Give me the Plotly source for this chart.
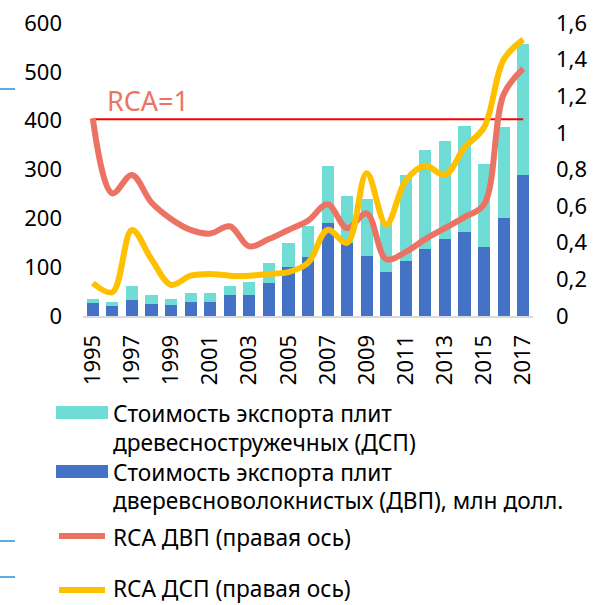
import plotly.graph_objects as go

years = list(range(1995, 2018))
dvp_export = [27, 21, 33, 25, 23, 29, 29, 44, 44, 68, 101, 121, 191, 150, 123, 90, 112, 138, 157, 172, 141, 200, 289]
total_export = [34, 29, 61, 43, 35, 47, 48, 61, 70, 109, 150, 185, 307, 246, 240, 192, 288, 340, 359, 389, 312, 387, 556]
dsp_export = [t - d for t, d in zip(total_export, dvp_export)]
rca_dvp = [1.08, 0.67, 0.77, 0.62, 0.53, 0.47, 0.45, 0.49, 0.38, 0.42, 0.47, 0.52, 0.61, 0.48, 0.56, 0.31, 0.35, 0.42, 0.48, 0.54, 0.61, 1.21, 1.35]
rca_dsp = [0.18, 0.13, 0.47, 0.31, 0.17, 0.22, 0.23, 0.22, 0.22, 0.23, 0.24, 0.29, 0.47, 0.40, 0.78, 0.50, 0.74, 0.82, 0.77, 0.92, 1.03, 1.40, 1.51]
rca_threshold = [1.075] * len(years)
x_ticks = list(range(1995, 2018, 2))
y2_ticks = [0, 0.2, 0.4, 0.6, 0.8, 1.0, 1.2, 1.4, 1.6]
y2_ticktext = ["0", "0,2", "0,4", "0,6", "0,8", "1", "1,2", "1,4", "1,6"]

legend_labels = [
    ["Стоимость экспорта плит", "древесностружечных (ДСП)"],
    ["Стоимость экспорта плит", "дверевсноволокнистых (ДВП), млн долл."],
    ["RCA ДВП (правая ось)"],
    ["RCA ДСП (правая ось)"],
]

C_CYAN = "#70DCD6"
C_BLUE = "#4472C4"
C_SALMON = "#EC7363"
C_YELLOW = "#FFC000"
FONT = "Noto Sans"

W, H = 598, 605
L, R, T, B = 83, 65, 23, 289
PW, PH = W - L - R, H - T - B


def px(x, y):
    return (x - L) / PW, (H - B - y) / PH


fig = go.Figure()
fig.add_trace(go.Bar(x=years, y=dvp_export, marker_color=C_BLUE, width=0.62,
                     marker_line_width=0, yaxis="y"))
fig.add_trace(go.Bar(x=years, y=dsp_export, marker_color=C_CYAN, width=0.62,
                     marker_line_width=0, yaxis="y"))
fig.add_trace(go.Scatter(x=years, y=rca_threshold, mode="lines",
                         line=dict(color="#FF0000", width=2), yaxis="y2"))
fig.add_trace(go.Scatter(x=years, y=rca_dvp, mode="lines",
                         line=dict(color=C_SALMON, width=6, shape="spline", smoothing=1.0),
                         yaxis="y2"))
fig.add_trace(go.Scatter(x=years, y=rca_dsp, mode="lines",
                         line=dict(color=C_YELLOW, width=6, shape="spline", smoothing=1.0),
                         yaxis="y2"))

shapes = []
annotations = []

# manual legend
sw_x0, sw_x1 = 56, 108
text_x = 112
x0, y0 = px(sw_x0, 419); x1, y1 = px(sw_x1, 406)
shapes.append(dict(type="rect", xref="paper", yref="paper", x0=x0, x1=x1, y0=y0, y1=y1,
                   fillcolor=C_CYAN, line_width=0))
x0, y0 = px(sw_x0, 478); x1, y1 = px(sw_x1, 465)
shapes.append(dict(type="rect", xref="paper", yref="paper", x0=x0, x1=x1, y0=y0, y1=y1,
                   fillcolor=C_BLUE, line_width=0))
for yy, col in [(536, C_SALMON), (590, C_YELLOW)]:
    x0, y0 = px(sw_x0 + 3, yy); x1, _ = px(sw_x1 - 3, yy)
    shapes.append(dict(type="line", xref="paper", yref="paper", x0=x0, x1=x1, y0=y0, y1=y0,
                       line=dict(color=col, width=6)))

line_ys = [[413, 442], [472, 501], [537], [588]]
for labels, ys in zip(legend_labels, line_ys):
    for txt, yy in zip(labels, ys):
        ax, ay = px(text_x, yy)
        annotations.append(dict(x=ax, y=ay, xref="paper", yref="paper", text=txt,
                                showarrow=False, xanchor="left", yanchor="middle",
                                borderpad=0,
                                font=dict(family=FONT, size=22.7, color="#000000")))

# RCA=1 label
ax, ay = px(105, 100)
annotations.append(dict(x=ax, y=ay, xref="paper", yref="paper", text="RCA=1",
                        showarrow=False, xanchor="left", yanchor="middle",
                        font=dict(family=FONT, size=27, color=C_SALMON)))

# small blue marks at left edge
for yy in [89, 541, 577]:
    x0, y0 = px(0, yy); x1, _ = px(15, yy)
    shapes.append(dict(type="line", xref="paper", yref="paper", x0=x0, x1=x1, y0=y0, y1=y0,
                       line=dict(color="#5AADE0", width=2)))

tickfont = dict(family=FONT, size=22, color="#000000")
fig.update_layout(
    width=W, height=H,
    margin=dict(l=L, r=R, t=T, b=B, pad=0),
    barmode="stack",
    showlegend=False,
    plot_bgcolor="white",
    paper_bgcolor="white",
    font=dict(family=FONT, size=22, color="#000000"),
    xaxis=dict(range=[1994.5, 2017.5], tickvals=x_ticks, ticktext=[str(v) for v in x_ticks],
               tickangle=-90, showgrid=False, zeroline=False, showline=True,
               linecolor="#D9D9D9", linewidth=2, ticks="", ticklabelstandoff=8,
               tickfont=tickfont, automargin=False),
    yaxis=dict(range=[0, 600], dtick=100, showgrid=False, zeroline=False, showline=False,
               ticks="", ticklabelstandoff=20, tickfont=tickfont, automargin=False),
    yaxis2=dict(range=[0, 1.6], overlaying="y", side="right", showgrid=False,
                zeroline=False, showline=False, ticks="", ticklabelstandoff=22,
                tickvals=y2_ticks, ticktext=y2_ticktext,
                tickfont=tickfont, automargin=False),
    shapes=shapes,
    annotations=annotations,
)

fig.write_html("out.html", config={"displayModeBar": False},
               post_script="document.body.style.margin='0px';")
